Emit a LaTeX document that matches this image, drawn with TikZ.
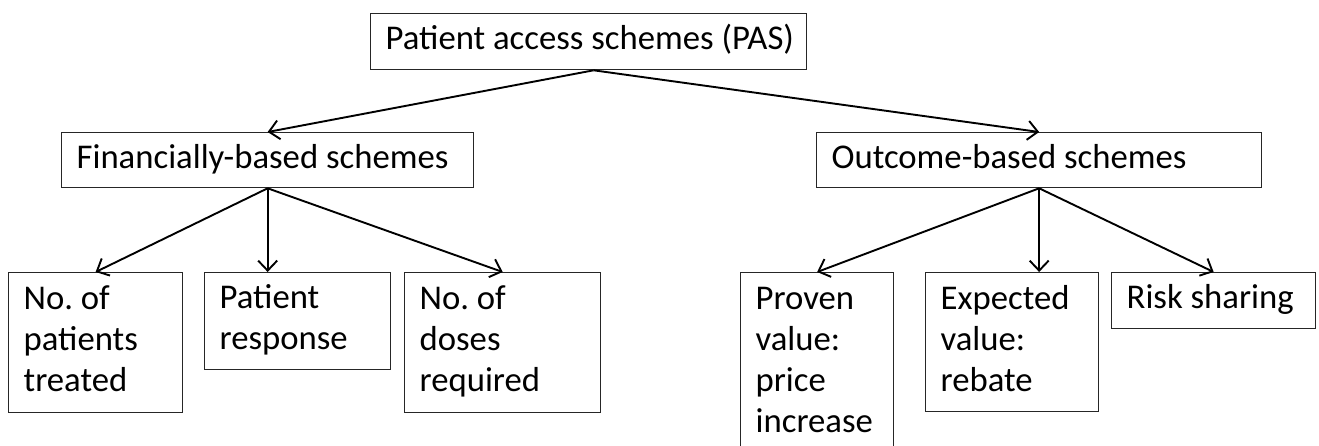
\documentclass[tikz,border=0pt]{standalone}
\usepackage{fontspec}
\setmainfont{Carlito}
\usetikzlibrary{arrows.meta}
\newcommand\tightsp{\spaceskip=0pt\xspaceskip=0pt\frenchspacing}
\tikzset{
  box/.style={draw=black!85, line width=1.3pt, anchor=north west, inner xsep=15pt, inner ysep=0pt,
    align=left, font=\fontsize{34.7}{41}\selectfont},
  arr/.style={draw=black, line width=1.9pt, -{Straight Barb[length=10pt,width=19pt,line width=1.9pt]}}
}
\begin{document}
\begin{tikzpicture}[x=1pt,y=-1pt]
\useasboundingbox (0,0) rectangle (1319,446);
\clip (0,0) rectangle (1319,446);
\node[box, minimum width=436pt, minimum height=56pt, text width=406pt] (top) at (370,13) {\tightsp\strut\mbox{Patient access schemes (PAS)}};
\node[box, minimum width=412pt, minimum height=55pt, text width=382pt] (fin) at (61,132) {\tightsp\strut\mbox{Financially-based schemes}};
\node[box, minimum width=445pt, minimum height=55pt, text width=415pt] (out) at (816,132) {\tightsp\strut Outcome-based schemes};
\node[box, minimum width=174pt, minimum height=140pt, text width=144pt] (b1) at (8,272) {\tightsp\strut No. of\\\strut patients\\\strut treated};
\node[box, minimum width=186pt, minimum height=97pt, text width=156pt] (b2) at (204,272) {\tightsp\strut Patient\\\strut response};
\node[box, minimum width=196pt, minimum height=140pt, text width=166pt] (b3) at (404,272) {\tightsp\strut No. of\\\strut doses\\\strut required};
\node[box, minimum width=153pt, minimum height=180pt, text width=123pt] (p) at (740,272) {\tightsp\strut Proven\\\strut value:\\\strut price\\\strut increase};
\node[box, minimum width=173pt, minimum height=139pt, text width=143pt] (e) at (925,272) {\tightsp\strut Expected\\\strut value:\\\strut rebate};
\node[box, minimum width=204pt, minimum height=56pt, text width=174pt] (r) at (1111,272) {\tightsp\strut\mbox{Risk sharing}};
\draw[arr] ([xshift=5pt]top.south) -- (fin.north);
\draw[arr] ([xshift=5pt]top.south) -- (out.north);
\draw[arr] (fin.south) -- (b1.north);
\draw[arr] (fin.south) -- (fin.south |- b2.north);
\draw[arr] (fin.south) -- (b3.north);
\draw[arr] (out.south) -- (p.north);
\draw[arr] (out.south) -- (out.south |- e.north);
\draw[arr] (out.south) -- (r.north);
\end{tikzpicture}
\end{document}
